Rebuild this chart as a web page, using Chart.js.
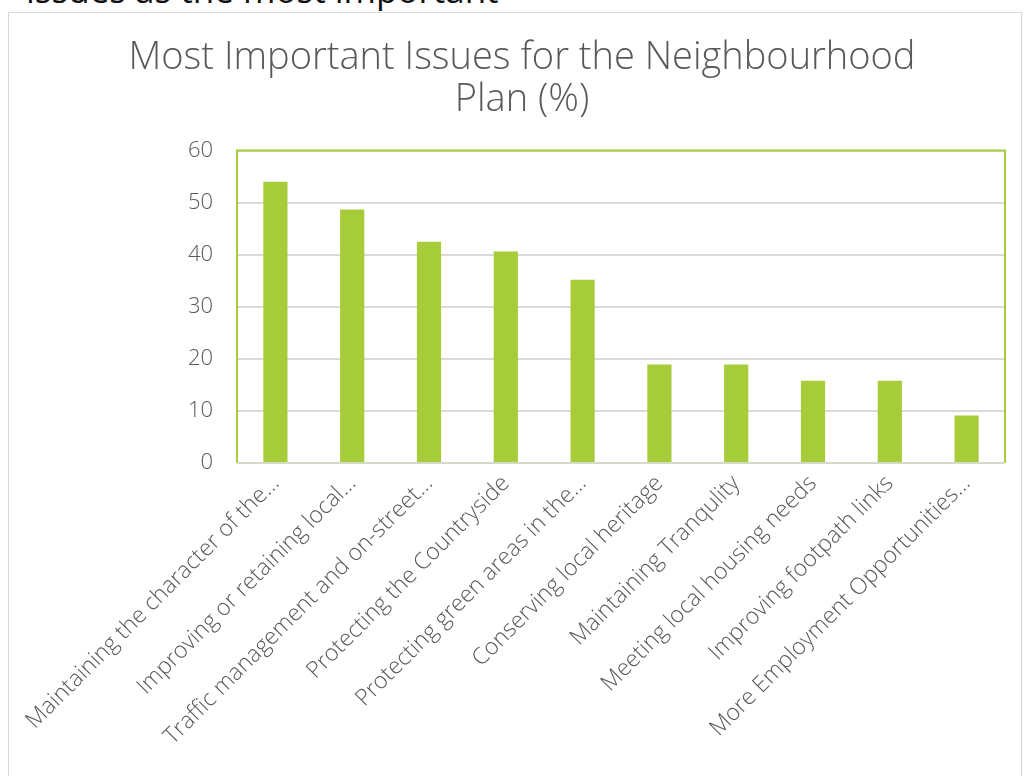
<!DOCTYPE html>
<html>
<head>
<meta charset="utf-8">
<script src="https://cdn.jsdelivr.net/npm/chart.js@4/dist/chart.umd.min.js"></script>
<style>
  body { margin:0; width:1026px; height:776px; overflow:hidden; background:#fff; position:relative; }
  #doctext { position:absolute; left:26px; top:-28px; font-size:35px; line-height:35px; color:#111; white-space:nowrap; font-family:"Open Sans", sans-serif; font-weight:400; }
  #box { position:absolute; left:8px; top:12px; width:1012px; height:770px; border:1px solid #D9D9D9; }
  #box canvas { position:absolute; left:0; top:0; }
</style>
</head>
<body>
<div id="doctext">issues as the most important</div>
<div id="box"><canvas id="myChart" width="1012" height="764"></canvas></div>
<script>
var categories = ["Maintaining the character of the…","Improving or retaining local…","Traffic management and on-street…","Protecting the Countryside","Protecting green areas in the…","Conserving local heritage","Maintaining Tranqulity","Meeting local housing needs","Improving footpath links","More Employment Opportunities…"];
var percentValues = [54, 48.7, 42.5, 40.6, 35.2, 18.9, 18.9, 15.8, 15.8, 9.1];
var yTicks = [0, 10, 20, 30, 40, 50, 60];

var textGrey = '#595959';
var barGreen = '#A6CC3A';
var fontName = '"Open Sans", Lato, sans-serif';

// green frame round the plot area (top, left, right), grey base line
var plotFrame = {
    id: 'plotFrame',
    afterDraw: function(chart){
        var a = chart.chartArea, ctx = chart.ctx;
        ctx.save();
        ctx.strokeStyle = '#A6CC3A';
        ctx.lineWidth = 2;
        ctx.beginPath();
        ctx.moveTo(a.left, a.bottom);
        ctx.lineTo(a.left, a.top);
        ctx.lineTo(a.right, a.top);
        ctx.lineTo(a.right, a.bottom);
        ctx.stroke();
        ctx.strokeStyle = '#D5D9C8';
        ctx.beginPath();
        ctx.moveTo(a.left, a.bottom);
        ctx.lineTo(a.right, a.bottom);
        ctx.stroke();
        ctx.restore();
    }
};

new Chart('myChart', {
    type: 'bar',
    data: {
        labels: categories,
        datasets: [{
            label: 'Most Important Issues',
            data: percentValues,
            backgroundColor: barGreen,
            categoryPercentage: 1,
            barPercentage: 0.315
        }]
    },
    options: {
        responsive: false,
        animation: false,
        layout: { padding: { top: 24, right: 16, left: 30, bottom: 0 } },
        plugins: {
            legend: { display: false },
            tooltip: { enabled: false },
            title: {
                display: true,
                text: ['Most Important Issues for the Neighbourhood', 'Plan (%)'],
                color: textGrey,
                font: { family: fontName, size: 38, weight: '300', lineHeight: 1.1 },
                padding: { top: 0, bottom: 30 }
            }
        },
        scales: {
            x: {
                grid: { display: false, drawTicks: false },
                border: { display: false },
                ticks: {
                    color: textGrey,
                    font: { family: fontName, size: 23, weight: '300' },
                    minRotation: 45,
                    maxRotation: 45,
                    autoSkip: false,
                    padding: 7
                },
                afterFit: function(scale){ scale.height = 314; }
            },
            y: {
                min: 0,
                max: 60,
                afterBuildTicks: function(scale){
                    scale.ticks = yTicks.map(function(v){ return { value: v }; });
                },
                grid: { color: '#DADADA', lineWidth: 2, drawTicks: false },
                border: { display: false },
                ticks: {
                    color: textGrey,
                    font: { family: fontName, size: 22, weight: '300' },
                    padding: 24
                },
                afterFit: function(scale){ scale.width = 198; }
            }
        }
    },
    plugins: [plotFrame]
});
</script>
</body>
</html>
